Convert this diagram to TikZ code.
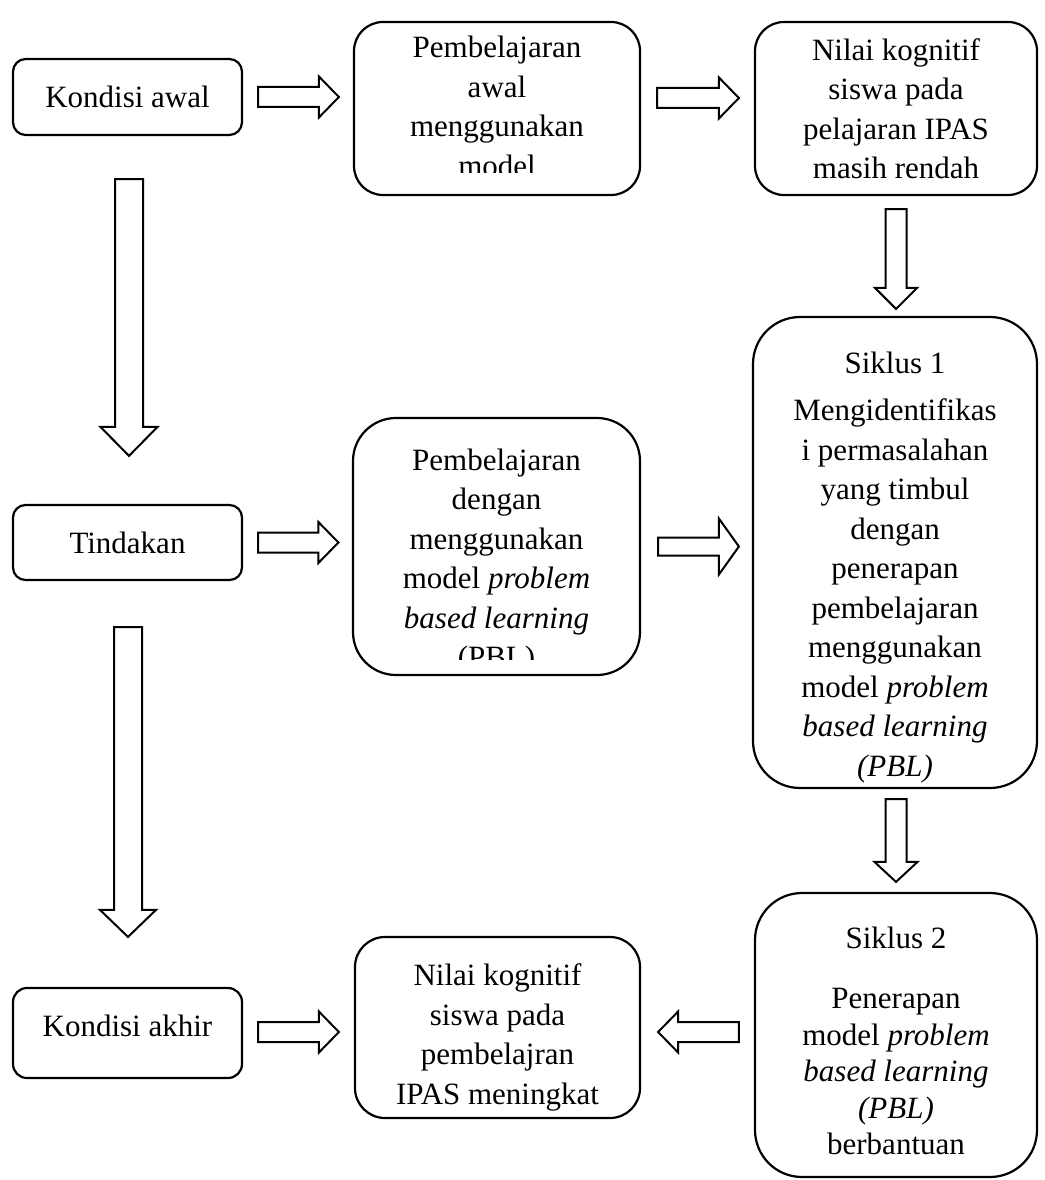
\documentclass[tikz,border=0pt]{standalone}
\usepackage{fontspec}
\setmainfont{Liberation Serif}
\usetikzlibrary{calc}

\tikzset{
  shaft half/.store in=\shafthalf,
  head half/.store in=\headhalf,
  head len/.store in=\headlen,
  shaft half=10, head half=20.5, head len=20,
  hollow arrow/.style={draw, line width=2pt, line join=miter,
    to path={let \p1=(\tikztostart), \p2=(\tikztotarget),
      \n1={atan2(\y2-\y1,\x2-\x1)}, \n2={veclen(\x2-\x1,\y2-\y1)} in
      ([shift={(\p1)},rotate=\n1]0pt,\shafthalf pt)
      -- ([shift={(\p1)},rotate=\n1]\n2-\headlen pt,\shafthalf pt)
      -- ([shift={(\p1)},rotate=\n1]\n2-\headlen pt,\headhalf pt)
      -- ([shift={(\p1)},rotate=\n1]\n2,0pt)
      -- ([shift={(\p1)},rotate=\n1]\n2-\headlen pt,-\headhalf pt)
      -- ([shift={(\p1)},rotate=\n1]\n2-\headlen pt,-\shafthalf pt)
      -- ([shift={(\p1)},rotate=\n1]0pt,-\shafthalf pt) -- cycle}},
  box/.style={draw, line width=2.2pt, align=center, inner sep=0pt},
  boxtext/.style={align=center, inner sep=0pt}
}

\begin{document}
\begin{tikzpicture}[x=1pt, y=-1pt, font=\fontsize{31}{39.5}\selectfont]
  \useasboundingbox (0,0) rectangle (1044,1180);
  % Boxes
  \node[box, minimum width=229pt, minimum height=76pt, rounded corners=12.7pt] (kawal) at (127.5,97) {Kondisi awal};
  \node[box, minimum width=286pt, minimum height=173pt, rounded corners=29pt] (pawal) at (497,108.5) {};
  \node[box, minimum width=282pt, minimum height=173pt, rounded corners=29pt] (nrendah) at (896,108.5) {Nilai kognitif\\siswa pada\\pelajaran IPAS\\masih rendah};
  \node[box, minimum width=229pt, minimum height=75pt, rounded corners=12.5pt] (tindakan) at (127.5,542.5) {Tindakan};
  \node[box, minimum width=287pt, minimum height=257pt, rounded corners=43pt] (ppbl) at (496.5,546.5) {};
  \node[box, minimum width=284pt, minimum height=471pt, rounded corners=47pt] (siklus1) at (895,552.5) {};
  \node[box, minimum width=229pt, minimum height=90pt, rounded corners=14pt] (kakhir) at (127.5,1033) {};
  \node[box, minimum width=285pt, minimum height=181pt, rounded corners=30pt] (nmeningkat) at (497.5,1027.5) {};
  \node[box, minimum width=282pt, minimum height=284pt, rounded corners=47pt] (siklus2) at (896,1035) {};

  % Texts set off the middle of their box
  \node[boxtext] (siklus1text) at ($(siklus1.center)+(0,15)$) {Siklus 1\\[8pt]Mengidentifikas\\i permasalahan\\yang timbul\\dengan\\penerapan\\pembelajaran\\menggunakan\\model \textit{problem}\\\textit{based learning}\\\textit{(PBL)}};
  \node[boxtext] (kakhirtext) at ($(kakhir.center)+(0,-7.5)$) {Kondisi akhir};
  \node[boxtext] (nmeningkattext) at ($(nmeningkat.center)+(0,10)$) {Nilai kognitif\\siswa pada\\pembelajran\\IPAS meningkat};
  \node[boxtext, font=\fontsize{31}{36.5}\selectfont] (siklus2text) at ($(siklus2.center)+(0,6)$) {Siklus 2\\[24pt]Penerapan\\model \textit{problem}\\\textit{based learning}\\\textit{(PBL)}\\berbantuan};

  % Text that runs past the bottom of its box
  \begin{scope}
    \clip (pawal.north west) rectangle ($(pawal.south east)+(0,-24)$);
    \node[boxtext] (pawaltext) at ($(pawal.center)+(0,-2)$) {Pembelajaran\\awal\\menggunakan\\model};
  \end{scope}
  \begin{scope}
    \clip (ppbl.north west) rectangle ($(ppbl.south east)+(0,-17)$);
    \node[boxtext] (ppbltext) at ($(ppbl.center)+(0,15)$) {Pembelajaran\\dengan\\menggunakan\\model \textit{problem}\\\textit{based learning}\\(PBL)};
  \end{scope}

  % Block arrows
  \draw[hollow arrow] ($(kawal.east)+(15,0)$) to ($(kawal.east -| pawal.west)+(-14,0)$);
  \draw[hollow arrow] ($(kawal.east -| pawal.east)+(16,1)$) to ($(kawal.east -| nrendah.west)+(-15,1)$);
  \draw[hollow arrow, shaft half=14, head half=28.5, head len=29] ($(kawal.south)+(1.5,43)$) to ($(kawal.south |- tindakan.north)+(1.5,-48)$);
  \draw[hollow arrow, shaft half=10.5, head half=21, head len=21] ($(nrendah.south)+(0,13)$) to ($(nrendah.south |- siklus1.north)+(0,-7)$);
  \draw[hollow arrow] ($(tindakan.east)+(15,0)$) to ($(tindakan.east -| ppbl.west)+(-13.5,0)$);
  \draw[hollow arrow, shaft half=9, head half=28, head len=20] ($(ppbl.east)+(17,0)$) to ($(ppbl.east -| siklus1.west)+(-13,0)$);
  \draw[hollow arrow, shaft half=14, head half=28, head len=27] ($(tindakan.south)+(0.5,46)$) to ($(tindakan.south |- kakhir.north)+(0.5,-50)$);
  \draw[hollow arrow, shaft half=10.5, head half=21.5, head len=20] ($(siklus1.south)+(1,10)$) to ($(siklus1.south |- siklus2.north)+(1,-10)$);
  \draw[hollow arrow] ($(kakhir.east)+(15,-1)$) to ($(kakhir.east -| nmeningkat.west)+(-15,-1)$);
  \draw[hollow arrow] ($(siklus2.west)+(-15,-3)$) to ($(siklus2.west -| nmeningkat.east)+(17,-3)$);
\end{tikzpicture}
\end{document}
